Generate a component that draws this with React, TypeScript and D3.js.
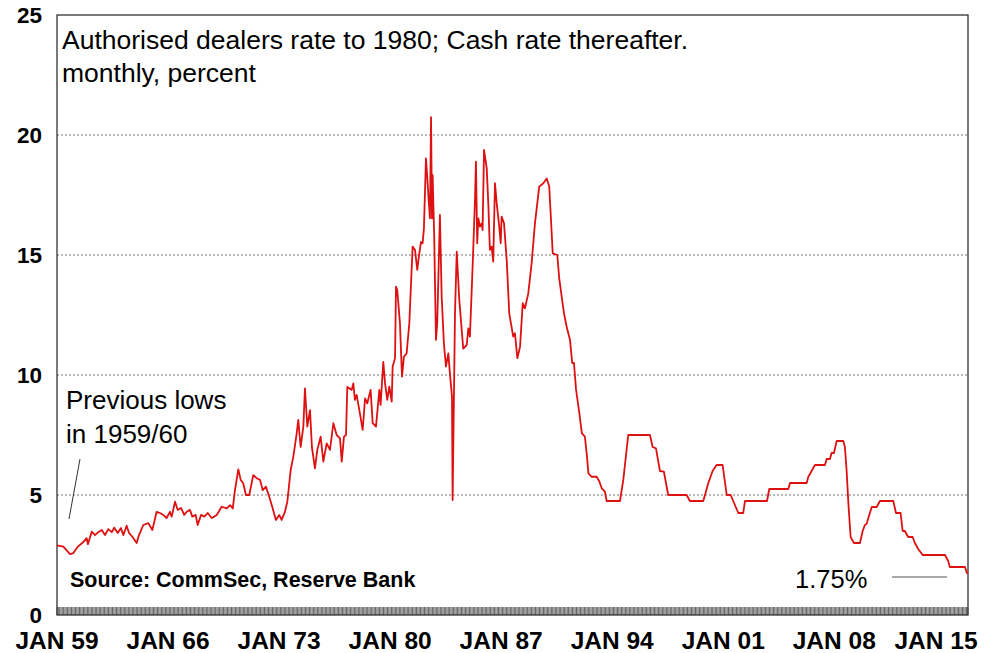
import React from "react";
import * as d3 from "d3";

// Month positions as decimal years, and the rate (percent) at each observation
const obsYear = [
  1959.0, 1959.4, 1959.82, 1960.03, 1960.32, 1960.64, 1960.87, 1960.95, 1961.19, 1961.4,
  1961.6, 1961.82, 1962.03, 1962.23, 1962.45, 1962.61, 1962.83, 1963.03, 1963.18, 1963.39,
  1963.54, 1963.75, 1964.02, 1964.17, 1964.44, 1964.76, 1965.01, 1965.28, 1965.49, 1965.7,
  1965.91, 1966.12, 1966.23, 1966.44, 1966.61, 1966.82, 1967.02, 1967.18, 1967.38, 1967.53,
  1967.74, 1967.87, 1968.08, 1968.29, 1968.5, 1968.75, 1968.92, 1969.07, 1969.38, 1969.7,
  1969.91, 1970.08, 1970.22, 1970.43, 1970.58, 1970.74, 1970.91, 1971.12, 1971.37, 1971.59,
  1971.8, 1971.97, 1972.17, 1972.38, 1972.6, 1972.8, 1973.01, 1973.16, 1973.37, 1973.52,
  1973.73, 1973.9, 1974.11, 1974.21, 1974.36, 1974.53, 1974.63, 1974.78, 1974.95, 1975.07,
  1975.26, 1975.41, 1975.62, 1975.79, 1976.0, 1976.21, 1976.42, 1976.63, 1976.84, 1976.95,
  1977.09, 1977.22, 1977.3, 1977.58, 1977.68, 1977.78, 1977.89, 1978.06, 1978.27, 1978.42,
  1978.56, 1978.77, 1978.9, 1979.11, 1979.32, 1979.4, 1979.57, 1979.68, 1979.82, 1979.95,
  1980.1, 1980.16, 1980.31, 1980.37, 1980.45, 1980.62, 1980.75, 1980.87, 1981.04, 1981.21,
  1981.3, 1981.42, 1981.57, 1981.71, 1981.84, 1981.95, 1982.05, 1982.13, 1982.26, 1982.34,
  1982.43, 1982.51, 1982.58, 1982.64, 1982.68, 1982.78, 1982.89, 1982.97, 1983.14, 1983.25,
  1983.39, 1983.52, 1983.67, 1983.77, 1983.9, 1983.94, 1984.09, 1984.2, 1984.36, 1984.61,
  1984.83, 1984.93, 1985.03, 1985.2, 1985.35, 1985.41, 1985.49, 1985.56, 1985.66, 1985.77,
  1985.83, 1985.92, 1986.09, 1986.19, 1986.29, 1986.4, 1986.5, 1986.61, 1986.72, 1986.88,
  1986.97, 1987.03, 1987.18, 1987.35, 1987.51, 1987.76, 1987.87, 1988.02, 1988.19, 1988.36,
  1988.5, 1988.71, 1988.92, 1989.13, 1989.4, 1989.66, 1989.87, 1990.03, 1990.12, 1990.25,
  1990.54, 1990.66, 1990.96, 1991.13, 1991.34, 1991.48, 1991.59, 1991.72, 1991.92, 1992.09,
  1992.28, 1992.41, 1992.5, 1992.71, 1993.02, 1993.19, 1993.34, 1993.54, 1993.65, 1994.49,
  1994.7, 1995.01, 1996.38, 1996.55, 1996.76, 1997.01, 1997.26, 1997.53, 1998.69, 1998.9,
  1999.74, 1999.85, 2000.06, 2000.33, 2000.58, 2000.96, 2001.22, 2001.47, 2001.63, 2001.95,
  2002.26, 2002.37, 2003.76, 2003.9, 2005.1, 2005.21, 2006.26, 2006.36, 2006.57, 2006.78,
  2007.41, 2007.52, 2007.73, 2007.83, 2007.98, 2008.15, 2008.57, 2008.67, 2008.78, 2008.88,
  2009.03, 2009.24, 2009.62, 2009.79, 2009.93, 2010.04, 2010.36, 2010.67, 2010.88, 2011.72,
  2011.89, 2012.18, 2012.31, 2012.45, 2012.66, 2012.94, 2013.08, 2013.29, 2013.57, 2014.98,
  2015.18, 2015.29, 2016.24, 2016.36, 2016.42,
];

const obsRate = [
  2.9, 2.85, 2.54, 2.58, 2.85, 3.03, 3.2, 2.95, 3.47, 3.33,
  3.45, 3.54, 3.33, 3.58, 3.45, 3.64, 3.42, 3.62, 3.33, 3.72,
  3.42, 3.26, 3.0, 3.33, 3.75, 3.83, 3.54, 4.3, 4.25, 4.17,
  4.04, 4.3, 4.1, 4.72, 4.38, 4.46, 4.17, 4.3, 4.38, 4.1,
  4.17, 3.75, 4.17, 4.1, 4.25, 4.04, 4.1, 4.17, 4.51, 4.44,
  4.58, 4.44, 5.2, 6.07, 5.63, 5.49, 5.0, 5.0, 5.83, 5.7,
  5.63, 5.2, 5.35, 4.93, 4.44, 3.96, 4.17, 3.96, 4.3, 4.72,
  6.04, 6.6, 7.57, 8.13, 7.0, 7.85, 9.44, 7.85, 8.54, 7.0,
  6.11, 6.88, 7.43, 6.39, 7.15, 6.88, 7.99, 7.5, 7.36, 6.39,
  7.43, 7.5, 9.5, 9.38, 9.65, 8.96, 9.17, 8.54, 7.71, 9.03,
  8.82, 9.38, 7.99, 7.85, 9.38, 8.75, 10.55, 9.65, 8.96, 9.51,
  8.89, 10.35, 10.7, 13.68, 13.54, 12.15, 9.93, 10.76, 10.9, 12.15,
  13.54, 15.35, 15.21, 14.38, 15.07, 15.55, 15.49, 16.1, 19.03, 18.26,
  17.29, 16.53, 20.74, 16.53, 18.33, 15.76, 11.46, 12.15, 16.67, 13.26,
  11.32, 10.35, 10.9, 10.07, 9.1, 4.79, 12.58, 15.14, 13.13, 11.1,
  11.25, 11.94, 11.6, 14.51, 17.29, 18.89, 15.49, 16.53, 16.18, 16.32,
  16.04, 19.38, 18.61, 17.15, 15.21, 15.35, 14.72, 17.99, 17.15, 16.18,
  15.49, 16.6, 16.32, 14.79, 12.57, 11.6, 11.74, 10.7, 11.18, 12.99,
  12.78, 13.4, 14.65, 16.32, 17.85, 17.99, 18.19, 17.85, 16.74, 15.07,
  15.0, 14.03, 12.57, 12.01, 11.46, 10.5, 10.5, 9.4, 8.45, 7.57,
  7.43, 6.6, 5.9, 5.76, 5.76, 5.56, 5.28, 5.14, 4.75, 4.75,
  5.63, 7.5, 7.5, 7.0, 6.94, 6.0, 5.97, 5.0, 5.0, 4.75,
  4.75, 5.0, 5.5, 6.0, 6.25, 6.25, 5.0, 5.0, 4.75, 4.25,
  4.25, 4.75, 4.75, 5.25, 5.25, 5.5, 5.5, 5.75, 6.0, 6.25,
  6.25, 6.5, 6.5, 6.75, 6.75, 7.25, 7.25, 7.0, 6.0, 4.75,
  3.25, 3.0, 3.0, 3.5, 3.75, 3.8, 4.5, 4.5, 4.75, 4.75,
  4.25, 4.25, 3.5, 3.5, 3.25, 3.25, 3.0, 2.75, 2.5, 2.5,
  2.25, 2.0, 2.0, 1.75, 1.75,
];

const yTicks = [0, 5, 10, 15, 20, 25];
const xTickYears = [1959, 1966, 1973, 1980, 1987, 1994, 2001, 2008, 2015];
const xTickLabels = ["JAN 59", "JAN 66", "JAN 73", "JAN 80", "JAN 87", "JAN 94", "JAN 01", "JAN 08", "JAN 15"];
const titleLines = ["Authorised dealers rate to 1980; Cash rate thereafter.", "monthly, percent"];
const noteLines = ["Previous lows", "in 1959/60"];
const sourceText = "Source: CommSec, Reserve Bank";
const latestLabel = "1.75%";

const W = 988;
const H = 653;
const L = 57, R = 968, T = 15, B = 615;
const FONT = "'Liberation Sans', Arial, Helvetica, sans-serif";

export default function App() {
  const x = d3.scaleLinear().domain([1959, 2016.43]).range([L, R]);
  const y = d3.scaleLinear().domain([0, 25]).range([B, T]);

  const pts: [number, number][] = obsYear.map((yr, i) => [yr, obsRate[i]]);
  const line = d3
    .line<[number, number]>()
    .x((d) => x(d[0]))
    .y((d) => y(d[1]));

  // monthly ticks along the bottom
  const months = d3.range(0, Math.floor((2016.43 - 1959) * 12) + 1).map((m) => 1959 + m / 12);

  return (
    <svg
      width={W}
      height={H}
      style={{ position: "absolute", left: 0, top: 0, background: "#fff" }}
      fontFamily={FONT}
    >
      <rect x={0} y={0} width={W} height={H} fill="#fff" />
      {/* gridlines */}
      {yTicks
        .filter((t) => t > 0 && t < 25)
        .map((t) => (
          <line
            key={"g" + t}
            x1={L}
            x2={R}
            y1={y(t)}
            y2={y(t)}
            stroke="#777"
            strokeWidth={1}
            strokeDasharray="2,2"
          />
        ))}
      {/* monthly ticks */}
      {months.map((m, i) => (
        <line
          key={"m" + i}
          x1={x(m)}
          x2={x(m)}
          y1={B}
          y2={B - 8}
          stroke="#222"
          strokeWidth={0.7}
        />
      ))}
      {/* frame */}
      <rect x={L} y={T} width={R - L} height={B - T} fill="none" stroke="#222" strokeWidth={1.2} />

      {/* data line */}
      <path d={line(pts) || ""} fill="none" stroke="#dd1111" strokeWidth={1.8} strokeLinejoin="round" />

      {/* y labels */}
      {yTicks.map((t) => (
        <text
          key={"y" + t}
          x={42}
          y={y(t) + 8}
          textAnchor="end"
          fontSize={22.5}
          fontWeight="bold"
          fill="#000"
        >
          {t}
        </text>
      ))}
      {/* x labels */}
      {xTickYears.map((yr, i) => {
        const cx = Math.min(x(yr), 936);
        return (
          <text key={"x" + yr} x={cx} y={649} textAnchor="middle" fontSize={24.5} fontWeight="bold" fill="#000">
            {xTickLabels[i]}
          </text>
        );
      })}

      {/* title */}
      {titleLines.map((s, i) => (
        <text key={"t" + i} x={62} y={49 + i * 33} fontSize={26.5} fill="#000">
          {s}
        </text>
      ))}
      {/* previous lows note */}
      {noteLines.map((s, i) => (
        <text key={"n" + i} x={66} y={409 + i * 33.5} fontSize={26} fill="#000">
          {s}
        </text>
      ))}
      <line x1={80} y1={459} x2={69} y2={519} stroke="#333" strokeWidth={1} />

      {/* source */}
      <text x={70} y={587} fontSize={21.5} fontWeight="bold" fill="#000">
        {sourceText}
      </text>

      {/* latest value */}
      <text x={795} y={588} fontSize={25.5} fill="#000">
        {latestLabel}
      </text>
      <line x1={892} y1={577} x2={947} y2={577} stroke="#555" strokeWidth={1} />
    </svg>
  );
}
